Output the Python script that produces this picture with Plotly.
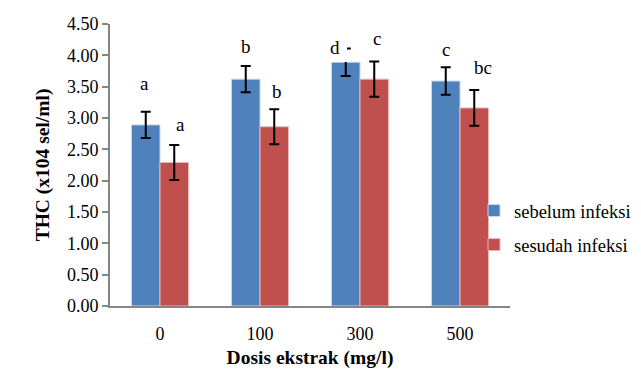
import plotly.graph_objects as go

categories = ["0", "100", "300", "500"]
sebelum = [2.89, 3.62, 3.89, 3.59]
sebelum_err = [0.21, 0.21, 0.22, 0.22]
sesudah = [2.29, 2.86, 3.62, 3.16]
sesudah_err = [0.28, 0.28, 0.28, 0.285]
sebelum_labels = ["a", "b", "d", "c"]
sesudah_labels = ["a", "b", "c", "bc"]
series_names = ["sebelum infeksi", "sesudah infeksi"]

FONT = "Liberation Serif"
BLUE = "#4F81BD"
RED = "#C0504D"
AXIS = "#868686"

pos = list(range(len(categories)))

fig = go.Figure()
for name, vals, errs, col, lc in [
    (series_names[0], sebelum, sebelum_err, BLUE, "#C9D7EA"),
    (series_names[1], sesudah, sesudah_err, RED, "#E6B9B8"),
]:
    fig.add_trace(go.Bar(
        x=pos, y=vals, name=name, legendgroup=name,
        marker=dict(color=col, line=dict(color=lc, width=1)),
        error_y=dict(type="data", array=errs, visible=True, color="black",
                     thickness=2, width=5),
    ))

# label offsets (px): (xshift relative to bar centre, yshift above error top)
blue_off = [(-1, 28), (0, 19), (-11, 0), (0, 18)]
red_off = [(6, 20), (3, 18), (3, 23), (9, 23)]
half = 14.25
LFONT = dict(family=FONT, size=19, color="black")
annotations = []
for i, p in enumerate(pos):
    dx, dy = blue_off[i]
    top = sebelum[i] + sebelum_err[i]
    if sebelum_labels[i] == "d":
        annotations.append(dict(
            x=p, y=top, xref="x", yref="y", text="d", showarrow=False,
            xshift=-half + dx, yshift=11, yanchor="top", valign="top",
            width=24, height=25, bgcolor="white", borderpad=0, borderwidth=0,
            font=LFONT))
    else:
        annotations.append(dict(
            x=p, y=top, xref="x", yref="y", text=sebelum_labels[i], showarrow=False,
            xshift=-half + dx, yshift=dy, yanchor="middle", font=LFONT))
    dx, dy = red_off[i]
    top = sesudah[i] + sesudah_err[i]
    annotations.append(dict(
        x=p, y=top, xref="x", yref="y", text=sesudah_labels[i], showarrow=False,
        xshift=half + dx, yshift=dy, yanchor="middle", font=LFONT))

# page has an 8px body margin, so the figure is sized to fit the 641x370 window
fig.update_layout(
    template="none",
    width=633, height=362,
    margin=dict(l=102, r=131, t=16, b=64, autoexpand=False),
    paper_bgcolor="white", plot_bgcolor="white",
    barmode="group", bargap=0.43,
    font=dict(family=FONT, size=18, color="black"),
    showlegend=True,
    legend=dict(x=(466 - 102) / 400, xanchor="left", y=(298 - 220) / 282, yanchor="middle",
                font=dict(family=FONT, size=18.5, color="black"),
                tracegroupgap=7, bgcolor="rgba(0,0,0,0)", borderwidth=0),
    annotations=annotations,
    xaxis=dict(
        range=[-0.5, len(categories) - 0.5],
        tickmode="array", tickvals=pos, ticktext=categories,
        showline=True, linecolor=AXIS, linewidth=2, ticks="",
        ticklabelstandoff=10,
        tickfont=dict(family=FONT, size=18, color="black"),
        title=dict(text="<b>Dosis ekstrak (mg/l)</b>", standoff=8,
                   font=dict(family=FONT, size=19.5, color="black")),
        showgrid=False, zeroline=False,
    ),
    yaxis=dict(
        range=[0, 4.5], dtick=0.5, tickformat=".2f",
        showline=True, linecolor=AXIS, linewidth=2,
        ticks="outside", ticklen=6, tickcolor=AXIS, tickwidth=2,
        tickfont=dict(family=FONT, size=18, color="black"),
        title=dict(text="<b>THC (x104 sel/ml)</b>", standoff=12,
                   font=dict(family=FONT, size=19.5, color="black")),
        showgrid=False, zeroline=False,
    ),
)

fig.write_html("out.html")
